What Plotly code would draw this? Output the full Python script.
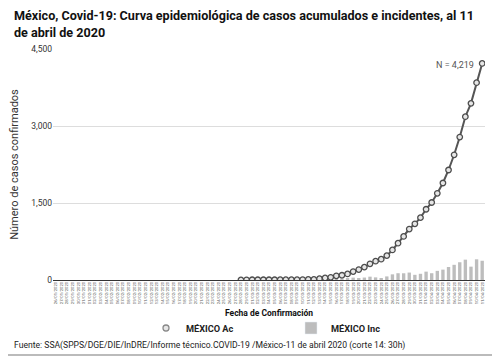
import pandas as pd
import plotly.graph_objects as go

# All dates on the axis (fecha de confirmación)
all_dates = pd.date_range("2020-01-26", "2020-04-11").strftime("%d/%m/%Y").tolist()

# Dates with cases: 28/02/2020 .. 11/04/2020
case_dates = pd.date_range("2020-02-28", "2020-04-11").strftime("%d/%m/%Y").tolist()

acumulados = [2, 4, 5, 5, 5, 5, 5, 6, 7, 7, 7, 8, 11, 12,
              26, 41, 53, 82, 93, 118, 164, 203, 251, 316, 367, 405, 475, 585,
              717, 848, 993, 1094, 1215,
              1378, 1510, 1688, 1890, 2143, 2439, 2785, 3181, 3441, 3844, 4219]

incidentes = [2, 2, 1, 0, 0, 0, 0, 1, 1, 0, 0, 1, 3, 1,
              14, 15, 12, 29, 11, 25, 46, 39, 48, 65, 51, 38, 70, 110,
              132, 131, 145, 101, 121,
              163, 132, 178, 202, 253, 296, 346, 396, 260, 403, 375]

y_ticks = [0, 1500, 3000, 4500]
y_tick_labels = ["0", "1,500", "3,000", "4,500"]

FONT = "Roboto, Arial, sans-serif"

# page body has an 8px margin; figure is sized to fill the rest of the window
OFF = 8
W, H = 500 - OFF, 361 - OFF
# plot area in window pixels
L, R, T, B = 53, 485, 49, 280


def px(X):
    return (X - L) / (R - L)


def py(Y):
    return (B - Y) / (B - T)


fig = go.Figure()

fig.add_trace(go.Bar(
    x=case_dates, y=incidentes, name="<b>MÉXICO Inc</b>",
    marker=dict(color="#bdbdbd", line=dict(width=0)),
    width=0.6, showlegend=False,
))

fig.add_trace(go.Scatter(
    x=case_dates, y=acumulados, mode="lines+markers", name="<b>MÉXICO Ac</b>",
    line=dict(color="#555555", width=2),
    marker=dict(symbol="circle", size=5.5, color="#e6e6e6",
                line=dict(color="#4d4d4d", width=1.3)),
    showlegend=False,
))

# legend-only entries
fig.add_trace(go.Scatter(
    x=[None], y=[None], mode="markers", name="<b>MÉXICO Ac</b>",
    marker=dict(symbol="circle", size=6, color="#e6e6e6",
                line=dict(color="#888888", width=1.3)),
))
fig.add_trace(go.Bar(
    x=[None], y=[None], name="<b>MÉXICO Inc</b>",
    marker=dict(color="#bdbdbd"),
))

fig.add_annotation(
    x=case_dates[-1], y=acumulados[-1], xref="x", yref="y",
    text="N = 4,219", showarrow=False, xanchor="right", yanchor="middle",
    xshift=-6, yshift=-2,
    font=dict(family=FONT, size=9, color="#555555"),
)

# title lines
fig.add_annotation(
    x=px(12), y=py(15.5), xref="paper", yref="paper",
    xanchor="left", yanchor="middle",
    text="<b>México, Covid-19: Curva epidemiológica de casos acumulados e incidentes, al 11</b>",
    showarrow=False, font=dict(family=FONT, size=12.6, color="#111111"),
)
fig.add_annotation(
    x=px(12), y=py(33), xref="paper", yref="paper",
    xanchor="left", yanchor="middle",
    text="<b>de abril de 2020</b>",
    showarrow=False, font=dict(family=FONT, size=12.6, color="#111111"),
)

# x axis title
fig.add_annotation(
    x=0.5, y=py(313), xref="paper", yref="paper",
    xanchor="center", yanchor="middle",
    text="<b>Fecha de Confirmación</b>", showarrow=False,
    font=dict(family=FONT, size=8.5, color="#111111"),
)

# source
fig.add_annotation(
    x=px(12), y=py(345), xref="paper", yref="paper",
    xanchor="left", yanchor="middle",
    text="Fuente: SSA(SPPS/DGE/DIE/InDRE/Informe técnico.COVID-19 /México-11 de abril 2020 (corte 14: 30h)",
    showarrow=False,
    font=dict(family=FONT, size=8.6, color="#222222"),
)

fig.update_layout(
    width=W, height=H,
    margin=dict(l=L - OFF, r=W - (R - OFF), t=T - OFF, b=H - (B - OFF),
                autoexpand=False),
    paper_bgcolor="white", plot_bgcolor="white",
    bargap=0.4,
    legend=dict(
        orientation="h",
        x=px(146), xanchor="left", y=py(328), yanchor="middle",
        font=dict(family=FONT, size=9.2, color="#222222"),
        itemwidth=30, entrywidth=100, entrywidthmode="pixels",
        bgcolor="rgba(0,0,0,0)",
    ),
    font=dict(family=FONT),
)

fig.update_xaxes(
    type="category", categoryorder="array", categoryarray=all_dates,
    range=[-0.5, len(all_dates) - 0.5],
    tickangle=-90, tickfont=dict(size=4.2, color="#555555", family=FONT),
    showgrid=False, showline=False, ticks="",
    automargin=False,
)

fig.update_yaxes(
    range=[0, 4500], tickvals=y_ticks, ticktext=y_tick_labels,
    tickfont=dict(size=8.5, color="#333333", family=FONT),
    showgrid=True, gridcolor="#dddddd", gridwidth=1,
    zeroline=True, zerolinecolor="#333333", zerolinewidth=1,
    title=dict(text="Número de casos confirmados", standoff=16,
               font=dict(family=FONT, size=11, color="#333333")),
    automargin=False,
)

# gray rule at the bottom
fig.add_shape(type="line", xref="paper", yref="paper",
              x0=px(OFF), x1=px(500), y0=py(355), y1=py(355),
              line=dict(color="#bbbbbb", width=2))

fig.write_html("out.html")
